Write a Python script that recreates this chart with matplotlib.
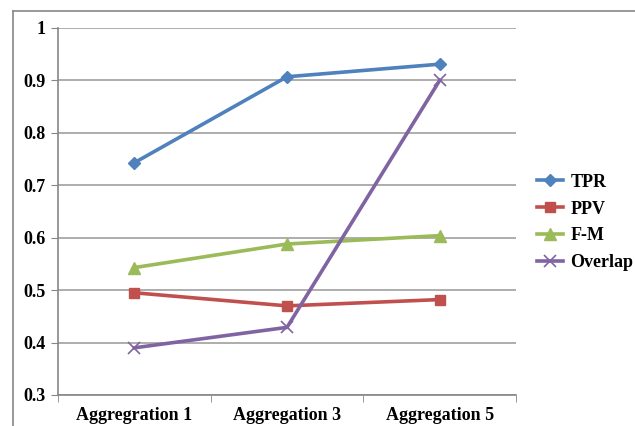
import matplotlib
matplotlib.use('Agg')
import matplotlib.pyplot as plt
from matplotlib.lines import Line2D

# Scores per aggregation level
categories = ['Aggregration 1', 'Aggregation 3', 'Aggregation 5']
tpr = [0.743, 0.907, 0.931]
ppv = [0.495, 0.470, 0.482]
fm = [0.543, 0.588, 0.604]
overlap = [0.390, 0.429, 0.900]
yticks = [0.3, 0.4, 0.5, 0.6, 0.7, 0.8, 0.9, 1.0]
ytick_labels = ['0.3', '0.4', '0.5', '0.6', '0.7', '0.8', '0.9', '1']

plt.rcParams['font.family'] = ['Liberation Serif', 'DejaVu Serif']
plt.rcParams['font.weight'] = 'bold'

fig = plt.figure(figsize=(6.35, 4.26), dpi=100)
ax = fig.add_axes([58 / 635, 1 - 395 / 426, (516 - 58) / 635, (395 - 28) / 426])

# outer chart frame
fc = '#868686'
fig.add_artist(Line2D([13 / 635, 13 / 635], [0, 1 - 11 / 426], color=fc, lw=1.2))
fig.add_artist(Line2D([13 / 635, 1], [1 - 11 / 426, 1 - 11 / 426], color=fc, lw=1.2))

x = range(len(categories))
ax.plot(x, tpr, color='#4F81BD', lw=2.6, marker='D', ms=6, label='TPR')
ax.plot(x, ppv, color='#C0504D', lw=2.6, marker='s', ms=7, label='PPV')
ax.plot(x, fm, color='#9BBB59', lw=2.6, marker='^', ms=8, label='F-M')
ax.plot(x, overlap, color='#8064A2', lw=2.6, marker='x', ms=8, mew=1.2, label='Overlap')

ax.set_xlim(-0.5, len(categories) - 0.5)
ax.set_ylim(0.3, 1.0)
ax.set_yticks(yticks)
ax.set_yticklabels(ytick_labels)
ax.set_xticks(list(x))
ax.set_xticklabels(categories)
ax.set_xticks([-0.5, 0.5, 1.5, 2.5], minor=True)
ax.tick_params(axis='x', which='major', length=0, pad=9, labelsize=13)
ax.tick_params(axis='x', which='minor', length=5, direction='out', color='#868686')
ax.tick_params(axis='y', length=5, direction='out', color='#868686', labelsize=13, pad=4)

ax.grid(axis='y', color='#A0A0A0', lw=1.2)
ax.set_axisbelow(True)
for s in ['top', 'right']:
    ax.spines[s].set_visible(False)
for s in ['left', 'bottom']:
    ax.spines[s].set_color('#868686')
    ax.spines[s].set_linewidth(1.2)

ax.legend(loc='center left', bbox_to_anchor=(537 / 635, 1 - 222.5 / 426),
          bbox_transform=fig.transFigure, frameon=False, borderpad=0, borderaxespad=0,
          fontsize=13, handlelength=1.45, handletextpad=0.4, labelspacing=0.55)

fig.savefig('out.png', dpi=100)
